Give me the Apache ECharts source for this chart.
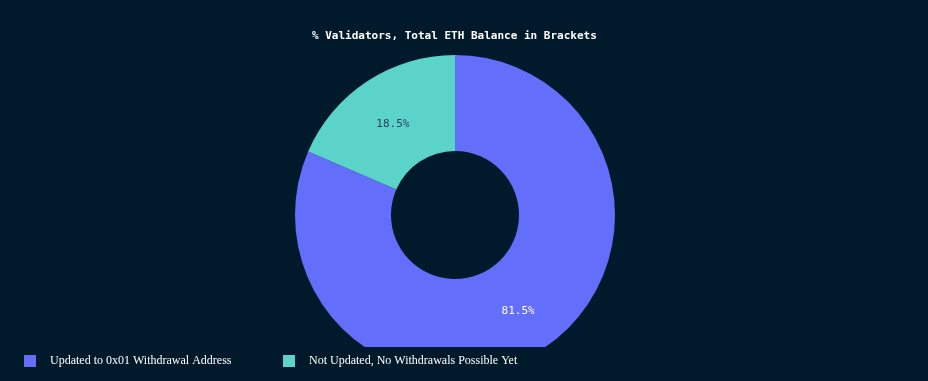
<!DOCTYPE html>
<html><head><meta charset="utf-8">
<script src="https://cdn.jsdelivr.net/npm/echarts@6/dist/echarts.min.js"></script>
<style>html,body{margin:0;padding:0;background:#011a2b;}#c{width:928px;height:381px;}</style>
</head><body><div id="c"></div>
<script>
const titleText = '% Validators, Total ETH Balance in Brackets';
const categories = ['Updated to 0x01 Withdrawal Address', 'Not Updated, No Withdrawals Possible Yet'];
const values = [81.5, 18.5];
const colors = ['#636efa', '#5cd3c9'];
const labelColors = ['#ffffff', '#2a3f5f'];

const chart = echarts.init(document.getElementById('c'));
const bg = '#011a2b';
chart.setOption({
  backgroundColor: bg,
  animation: false,
  title: {
    text: titleText, left: 307, top: 26,
    textStyle: { color: '#ffffff', fontFamily: 'DejaVu Sans Mono', fontWeight: 'bold', fontSize: 11 }
  },
  legend: categories.map((c, i) => ({
    data: [c], left: i === 0 ? 24 : 283, top: 355, orient: 'horizontal', padding: 0,
    itemWidth: 12, itemHeight: 12, icon: 'rect', z: 200,
    textStyle: { color: '#ffffff', fontFamily: 'Liberation Serif', fontSize: 12, padding: [0, 0, 0, 9] }
  })),
  graphic: [{ type: 'rect', shape: { x: 0, y: 347, width: 928, height: 40 }, style: { fill: bg }, z: 100 }],
  series: [{
    type: 'pie', center: [455, 215], radius: [64, 160], startAngle: 90, clockwise: true,
    avoidLabelOverlap: false,
    label: { show: true, position: 'inside', fontFamily: 'DejaVu Sans Mono', fontSize: 11,
      formatter: p => p.value.toFixed(1) + '%' },
    labelLine: { show: false },
    emphasis: { disabled: true },
    data: categories.map((c, i) => ({
      name: c, value: values[i],
      itemStyle: { color: colors[i] },
      label: { color: labelColors[i], offset: i === 1 ? [1, 5] : [0, 0] }
    }))
  }]
});
</script></body></html>
